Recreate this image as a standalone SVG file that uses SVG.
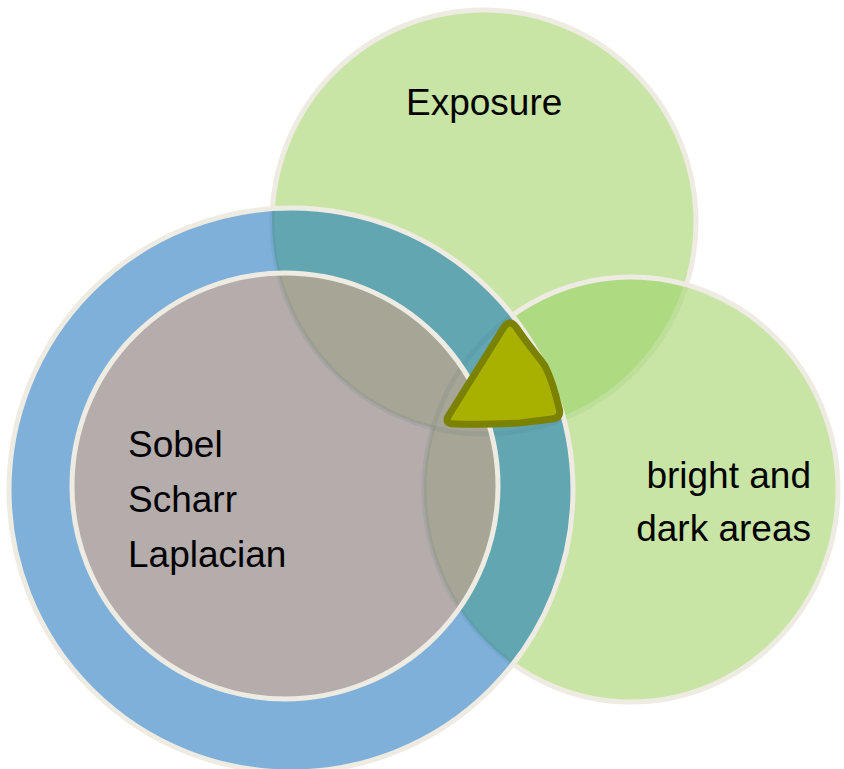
<svg xmlns="http://www.w3.org/2000/svg" xmlns:xlink="http://www.w3.org/1999/xlink" width="844" height="769" viewBox="0 0 844 769">
  <style>
    .lbl { font-family: "Liberation Sans", Arial, sans-serif; font-size: 37px; fill: #000; }
    .rim { fill: none; stroke: #EEEBE2; stroke-width: 5; }
    .seam { fill: none; stroke: #3C5A6E; stroke-opacity: 0.09; stroke-width: 5; }
    .green { fill: #C8E5A6; }
    .green2 { fill: #AEDB82; }
    .blue { fill: #7EB0DA; }
    .teal { fill: #62A6B2; }
    .stone { fill: #B4ADAC; }
    .olive { fill: #A6A596; }
  </style>
  <defs>
    <circle id="cTop" cx="484" cy="222" r="212"/>
    <ellipse id="cRight" cx="631" cy="489.5" rx="207" ry="212.5"/>
    <circle id="cBlue" cx="291" cy="490" r="282"/>
    <circle id="cInner" cx="285" cy="486" r="213"/>
    <clipPath id="inTop"><use xlink:href="#cTop"/></clipPath>
    <clipPath id="inRight"><use xlink:href="#cRight"/></clipPath>
    <clipPath id="inBlue"><use xlink:href="#cBlue"/></clipPath>
    <clipPath id="inInner"><use xlink:href="#cInner"/></clipPath>
    <clipPath id="outRight">
      <path clip-rule="evenodd" d="M0,0H844V769H0Z M424,489.5a207,212.5 0 1,0 414,0a207,212.5 0 1,0 -414,0Z"/>
    </clipPath>
  </defs>

  <!-- upper green set -->
  <g id="exposure-set">
    <use xlink:href="#cTop" class="green"/>
  </g>

  <!-- right green set -->
  <g id="bright-dark-set">
    <use xlink:href="#cRight" class="green"/>
    <use xlink:href="#cRight" class="green2" clip-path="url(#inTop)"/>
    <use xlink:href="#cTop" class="rim" clip-path="url(#outRight)"/>
    <use xlink:href="#cTop" class="rim" style="stroke:#BDDF9A" clip-path="url(#inRight)"/>
    <use xlink:href="#cRight" class="rim"/>
  </g>

  <!-- outer blue ring -->
  <g id="edge-ring">
    <use xlink:href="#cBlue" class="blue"/>
    <use xlink:href="#cBlue" class="teal" clip-path="url(#inTop)"/>
    <use xlink:href="#cBlue" class="teal" clip-path="url(#inRight)"/>
    <g clip-path="url(#inBlue)">
      <use xlink:href="#cTop" class="seam"/>
      <use xlink:href="#cRight" class="seam"/>
    </g>
    <use xlink:href="#cBlue" class="rim"/>
  </g>

  <!-- inner operator disc -->
  <g id="operators">
    <use xlink:href="#cInner" class="stone"/>
    <use xlink:href="#cInner" class="olive" clip-path="url(#inTop)"/>
    <use xlink:href="#cInner" class="olive" clip-path="url(#inRight)"/>
    <g clip-path="url(#inInner)">
      <use xlink:href="#cTop" class="seam"/>
      <use xlink:href="#cRight" class="seam"/>
    </g>
    <use xlink:href="#cInner" class="rim"/>
    <text class="lbl" x="128" y="457">Sobel</text>
    <text class="lbl" x="128" y="512">Scharr</text>
    <text class="lbl" x="128" y="567">Laplacian</text>
  </g>

  <!-- labels of the green sets -->
  <g id="labels">
    <text class="lbl" x="406" y="115">Exposure</text>
    <text class="lbl" x="811" y="488" text-anchor="end">bright and</text>
    <text class="lbl" x="811" y="541" text-anchor="end">dark areas</text>
  </g>

  <!-- common intersection marker -->
  <g id="intersection">
    <path d="M504,330 Q510,322 516,330 C528,348 539,360 545,369 C551,381 556,398 559,411 Q562,421 552,422 L520,426 Q490,428 455,427 Q443,427 449,418 Z" fill="#000" fill-opacity="0.08"/>
    <path d="M504,327 Q510,319 516,327 C528,345 539,357 545,366 C551,378 556,395 559,408 Q562,418 552,419 L520,423 Q490,425 455,424 Q443,424 449,415 Z" fill="#A8B000" stroke="#7A8200" stroke-width="7" stroke-linejoin="round"/>
  </g>
</svg>
